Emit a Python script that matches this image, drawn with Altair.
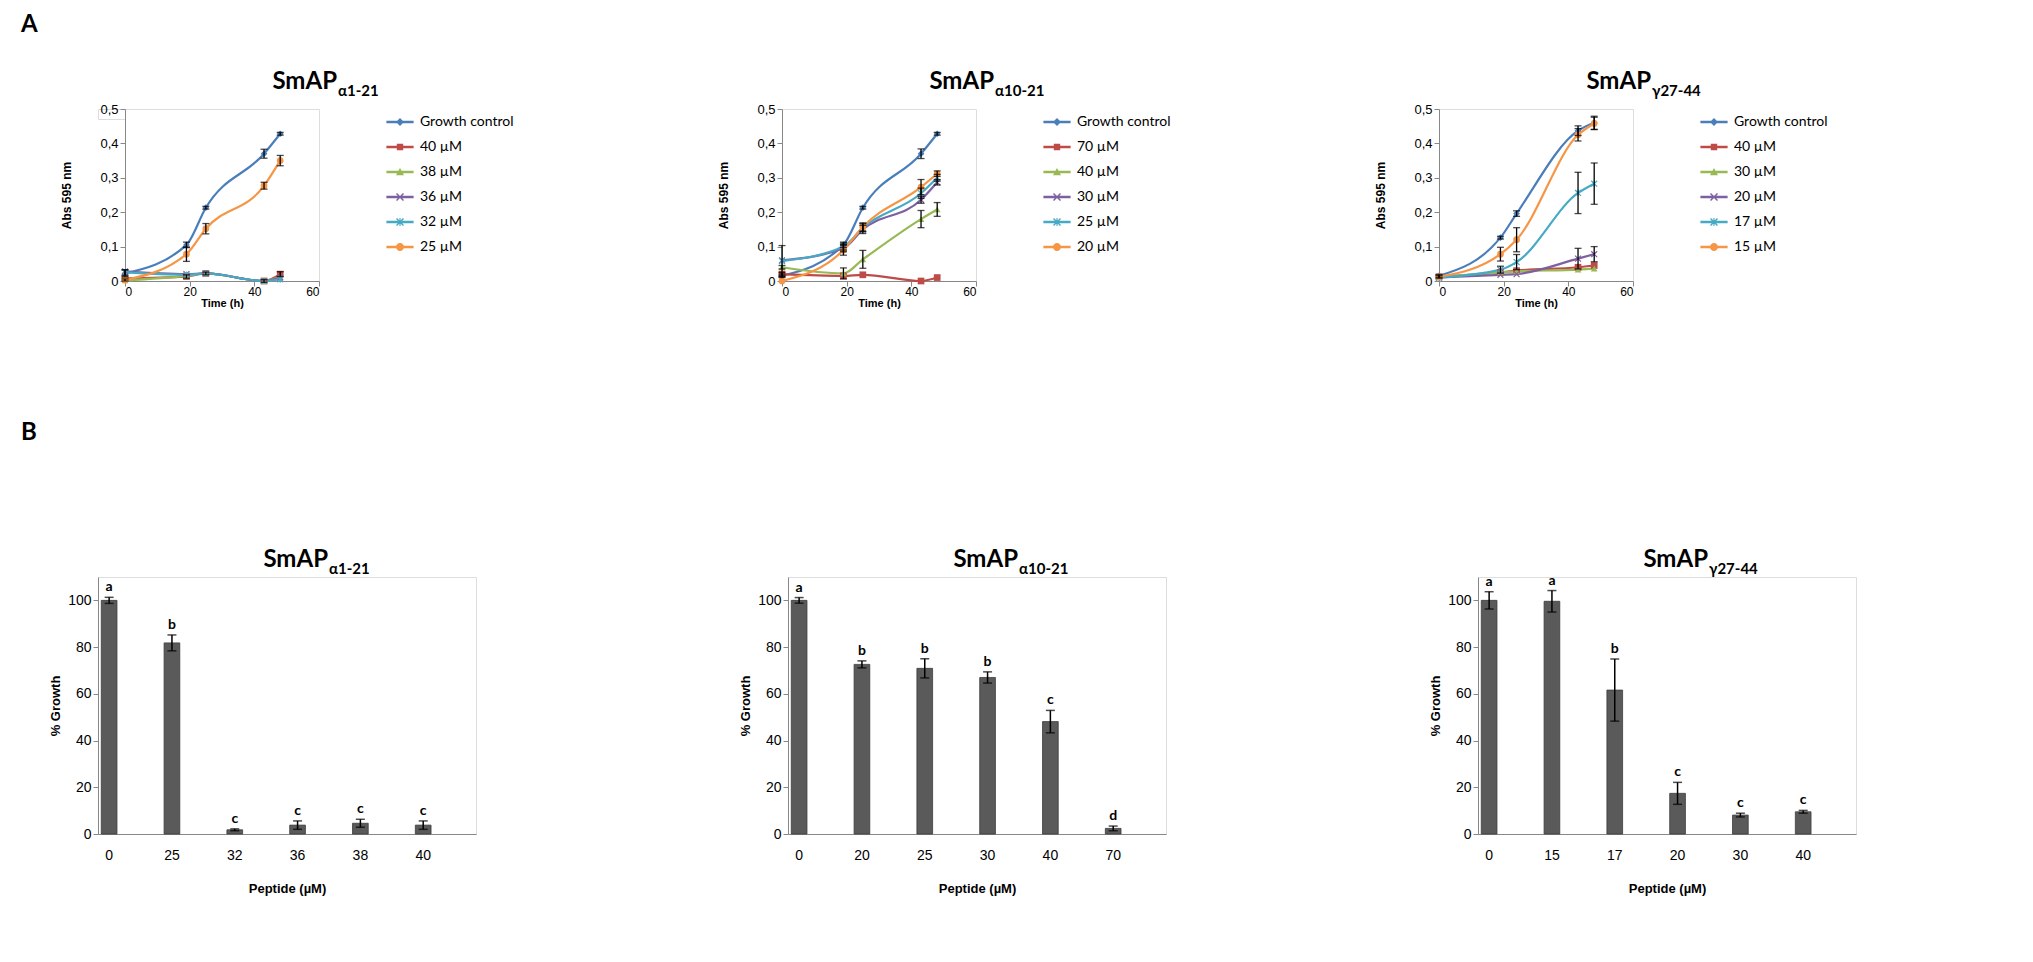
import altair as alt
import pandas as pd

FONT = "Lato"

# ---------------- Panel A: growth curves ----------------
colors = ["#4A7EBB", "#BE4B48", "#98B954", "#7D60A0", "#46AAC5", "#F69544"]

x_shape = "M-1,-0.75L-0.75,-1L0,-0.25L0.75,-1L1,-0.75L0.25,0L1,0.75L0.75,1L0,0.25L-0.75,1L-1,0.75L-0.25,0Z"
star_shape = x_shape + "M-0.14,-1L0.14,-1L0.14,1L-0.14,1Z"
markers = ["diamond", "square", "triangle-up", x_shape, star_shape, "circle"]
leg_line = "M-3.4,-0.3L3.4,-0.3L3.4,0.3L-3.4,0.3Z"
legend_symbols = [
    leg_line + "M0,-1L1,0L0,1L-1,0Z",
    leg_line + "M-0.8,-0.8L0.8,-0.8L0.8,0.8L-0.8,0.8Z",
    leg_line + "M0,-1L1,0.8L-1,0.8Z",
    leg_line + x_shape,
    leg_line + star_shape,
    leg_line + "M-1,0A1,1 0 1,1 1,0A1,1 0 1,1 -1,0Z",
]

times_a1 = [0, 19, 25, 43, 48]
series_a1 = ["Growth control", "40 µM", "38 µM", "36 µM", "32 µM", "25 µM"]
vals_a1 = [
    [0.022, 0.105, 0.213, 0.370, 0.428],
    [0.008, 0.013, 0.022, 0.000, 0.020],
    [0.002, 0.015, 0.022, 0.000, 0.012],
    [0.028, 0.020, 0.022, 0.000, 0.010],
    [0.025, 0.018, 0.022, 0.000, 0.005],
    [0.003, 0.078, 0.152, 0.277, 0.350],
]
errs_a1 = [
    [0.010, 0.008, 0.004, 0.013, 0.004],
    [0.000, 0.005, 0.004, 0.004, 0.007],
    [0.000, 0.000, 0.000, 0.000, 0.000],
    [0.000, 0.000, 0.000, 0.000, 0.000],
    [0.008, 0.000, 0.000, 0.000, 0.000],
    [0.003, 0.021, 0.015, 0.010, 0.015],
]

times_a2 = [0, 19, 25, 43, 48]
series_a2 = ["Growth control", "70 µM", "40 µM", "30 µM", "25 µM", "20 µM"]
vals_a2 = [
    [0.015, 0.105, 0.213, 0.370, 0.428],
    [0.020, 0.015, 0.018, 0.000, 0.010],
    [0.040, 0.022, 0.063, 0.180, 0.208],
    [0.060, 0.095, 0.150, 0.236, 0.287],
    [0.058, 0.100, 0.155, 0.255, 0.300],
    [0.000, 0.090, 0.157, 0.273, 0.312],
]
errs_a2 = [
    [0.005, 0.008, 0.004, 0.014, 0.004],
    [0.005, 0.000, 0.000, 0.000, 0.000],
    [0.005, 0.016, 0.026, 0.025, 0.020],
    [0.000, 0.010, 0.012, 0.010, 0.008],
    [0.045, 0.010, 0.012, 0.015, 0.010],
    [0.000, 0.015, 0.012, 0.022, 0.008],
]

times_a3 = [0, 19, 24, 43, 48]
series_a3 = ["Growth control", "40 µM", "30 µM", "20 µM", "17 µM", "15 µM"]
vals_a3 = [
    [0.015, 0.126, 0.196, 0.437, 0.460],
    [0.012, 0.025, 0.030, 0.040, 0.045],
    [0.012, 0.025, 0.028, 0.033, 0.036],
    [0.010, 0.018, 0.020, 0.065, 0.078],
    [0.010, 0.033, 0.055, 0.256, 0.283],
    [0.012, 0.078, 0.120, 0.425, 0.458],
]
errs_a3 = [
    [0.004, 0.004, 0.008, 0.014, 0.019],
    [0.000, 0.000, 0.000, 0.000, 0.000],
    [0.000, 0.000, 0.000, 0.000, 0.000],
    [0.000, 0.000, 0.000, 0.030, 0.022],
    [0.000, 0.010, 0.022, 0.060, 0.060],
    [0.004, 0.020, 0.035, 0.018, 0.018],
]

# ---------------- Panel B: % growth bars ----------------
doses_b1 = ["0", "25", "32", "36", "38", "40"]
growth_b1 = [100, 81.8, 1.8, 3.8, 4.6, 3.8]
err_b1 = [1.3, 3.4, 0.4, 1.8, 1.7, 1.8]
letters_b1 = ["a", "b", "c", "c", "c", "c"]

doses_b2 = ["0", "20", "25", "30", "40", "70"]
growth_b2 = [100, 72.6, 70.9, 67.0, 48.1, 2.4]
err_b2 = [1.2, 1.5, 4.1, 2.4, 4.8, 1.0]
letters_b2 = ["a", "b", "b", "b", "c", "d"]

doses_b3 = ["0", "15", "17", "20", "30", "40"]
growth_b3 = [100, 99.6, 61.6, 17.4, 8.1, 9.5]
err_b3 = [3.7, 4.6, 13.3, 4.7, 0.8, 0.6]
letters_b3 = ["a", "a", "b", "c", "c", "c"]

subs = ["α1-21", "α10-21", "γ27-44"]

TOP_W, TOP_H = 194, 172
BOT_W, BOT_H = 378, 257


def title_layers(sub, cx, size_main, size_sub, base_y):
    main = alt.Chart(pd.DataFrame({"t": ["SmAP"]})).mark_text(
        font=FONT, fontSize=size_main, fontWeight="bold", align="right",
        baseline="alphabetic", color="black"
    ).encode(text="t:N", x=alt.value(cx), y=alt.value(base_y))
    s = alt.Chart(pd.DataFrame({"t": [sub]})).mark_text(
        font=FONT, fontSize=size_sub, fontWeight="bold", align="left",
        baseline="alphabetic", color="black"
    ).encode(text="t:N", x=alt.value(cx + 1), y=alt.value(base_y + 7))
    return [main, s]


def letter_layer(letter, x, y):
    return alt.Chart(pd.DataFrame({"t": [letter]})).mark_text(
        font=FONT, fontSize=24, fontWeight="bold", align="left", baseline="top",
        color="black"
    ).encode(text="t:N", x=alt.value(x), y=alt.value(y))


def growth_panel(times, series, vals, errs, sub, panel_letter=None):
    rows = []
    for s, vs, es in zip(series, vals, errs):
        for t, v, e in zip(times, vs, es):
            rows.append({"series": s, "t": t, "v": v, "lo": v - e, "hi": v + e, "err": e})
    df = pd.DataFrame(rows)
    base = alt.Chart(df)

    xaxis = alt.Axis(values=[0, 20, 40, 60], title="Time (h)", grid=False,
                     labelFontSize=12, titleFontSize=11, titleFontWeight="bold",
                     labelPadding=0, titlePadding=0)
    yaxis = alt.Axis(values=[0, 0.1, 0.2, 0.3, 0.4, 0.5], title="Abs 595 nm", grid=False,
                     labelExpr="replace(format(datum.value, '.1~f'), '.', ',')",
                     labelFontSize=13, titleFontSize=12, titleFontWeight="bold",
                     titlePadding=26)
    xs = alt.Scale(domain=[0, 60], nice=False)
    ys = alt.Scale(domain=[0, 0.5], nice=False)
    x = alt.X("t:Q", scale=xs, axis=xaxis)
    y = alt.Y("v:Q", scale=ys, axis=yaxis)
    ylo = alt.Y("lo:Q", scale=ys, axis=yaxis)
    yhi = alt.Y("hi:Q", scale=ys, axis=yaxis)

    cscale = alt.Scale(domain=series, range=colors)
    line = base.mark_line(interpolate="monotone", strokeWidth=2.2).encode(
        x=x, y=y, color=alt.Color("series:N", scale=cscale, legend=None))
    pts = base.mark_point(filled=True, opacity=1, size=45).encode(
        x=x, y=y, color=alt.Color("series:N", scale=cscale, legend=None),
        shape=alt.Shape("series:N", scale=alt.Scale(domain=series, range=markers), legend=None))

    leg = alt.Legend(title=None, orient="none", legendX=268, legendY=6,
                     symbolSize=64, symbolStrokeWidth=0, labelFontSize=14,
                     labelFont=FONT, labelColor="black", rowPadding=11,
                     labelOffset=13)
    leg_layer = base.transform_filter("false").mark_point(filled=True, opacity=1).encode(
        x=x, y=y,
        color=alt.Color("series:N", scale=cscale, legend=leg),
        shape=alt.Shape("series:N", scale=alt.Scale(domain=series, range=legend_symbols), legend=leg))

    eb = base.transform_filter("datum.err > 0")
    rule = eb.mark_rule(color="black", strokeWidth=1.3).encode(x=x, y=ylo, y2="hi:Q")
    cap_hi = eb.mark_tick(orient="horizontal", color="black", thickness=1.3, size=7).encode(x=x, y=yhi)
    cap_lo = eb.mark_tick(orient="horizontal", color="black", thickness=1.3, size=7).encode(x=x, y=ylo)

    layers = [line, pts, rule, cap_hi, cap_lo, leg_layer] + title_layers(sub, 212, 24, 15, -20)
    if panel_letter:
        layers.append(letter_layer(panel_letter, -104, -96))
    return alt.layer(*layers).resolve_scale(color="independent", shape="independent").properties(
        width=TOP_W, height=TOP_H)


def bar_panel(doses, growth, errs, letters, sub, panel_letter=None):
    df = pd.DataFrame({
        "dose": doses, "v": growth,
        "lo": [g - e for g, e in zip(growth, errs)],
        "hi": [g + e for g, e in zip(growth, errs)],
        "lab": letters,
    })
    base = alt.Chart(df)
    xaxis = alt.Axis(title="Peptide (µM)", labelAngle=0, ticks=False, labelFontSize=14,
                     titleFontSize=13, titleFontWeight="bold", labelPadding=14, titlePadding=20)
    yaxis = alt.Axis(values=[0, 20, 40, 60, 80, 100], title="% Growth", grid=False,
                     labelFontSize=14, titleFontSize=13, titleFontWeight="bold", titlePadding=5)
    xs = alt.Scale(domain=doses, paddingInner=0.75, paddingOuter=0.384, align=0.068)
    ys = alt.Scale(domain=[0, 110], nice=False)
    x = alt.X("dose:N", sort=doses, scale=xs, axis=xaxis)
    y = alt.Y("v:Q", scale=ys, axis=yaxis)
    ylo = alt.Y("lo:Q", scale=ys, axis=yaxis)
    yhi = alt.Y("hi:Q", scale=ys, axis=yaxis)

    bars = base.mark_bar(color="#5a5a5a", stroke="#3c3c3c", strokeWidth=0.8).encode(x=x, y=y)
    rule = base.mark_rule(color="black", strokeWidth=1.5).encode(x=x, y=ylo, y2="hi:Q")
    cap_hi = base.mark_tick(orient="horizontal", color="black", thickness=1.5, size=9).encode(x=x, y=yhi)
    cap_lo = base.mark_tick(orient="horizontal", color="black", thickness=1.5, size=9).encode(x=x, y=ylo)
    txt = base.mark_text(font=FONT, fontSize=14, fontWeight="bold", baseline="bottom",
                         dy=-3, color="black").encode(x=x, y=yhi, text="lab:N")
    layers = [bars, rule, cap_hi, cap_lo, txt] + title_layers(sub, 230, 24, 15, -10)
    if panel_letter:
        layers.append(letter_layer(panel_letter, -77, -156))
    return alt.layer(*layers).properties(width=BOT_W, height=BOT_H)


# empty spacer that shifts the top row to the right of the bottom row
spacer = alt.Chart(pd.DataFrame({"s": [""]})).mark_text(opacity=0).encode(
    text="s:N", x=alt.value(0), y=alt.value(0)
).properties(width=27, height=10)

top_panels = alt.hconcat(
    growth_panel(times_a1, series_a1, vals_a1, errs_a1, subs[0], "A"),
    growth_panel(times_a2, series_a2, vals_a2, errs_a2, subs[1]),
    growth_panel(times_a3, series_a3, vals_a3, errs_a3, subs[2]),
    spacing=463, bounds="flush",
)
top = alt.hconcat(spacer, top_panels, spacing=0, bounds="flush")

bottom = alt.hconcat(
    bar_panel(doses_b1, growth_b1, err_b1, letters_b1, subs[0], "B"),
    bar_panel(doses_b2, growth_b2, err_b2, letters_b2, subs[1]),
    bar_panel(doses_b3, growth_b3, err_b3, letters_b3, subs[2]),
    spacing=312, bounds="flush",
)

chart = alt.vconcat(top, bottom, spacing=111).properties(
    padding={"left": 12, "top": 4, "right": 10, "bottom": 10}
).configure_view(strokeWidth=0).configure_axis(
    domainColor="#8c8c8c", tickColor="#8c8c8c", tickSize=5, labelColor="black",
    titleColor="black", labelFont=FONT, titleFont=FONT
).configure(background="white")

chart.save("out.html", embed_options={"renderer": "svg", "actions": False})
